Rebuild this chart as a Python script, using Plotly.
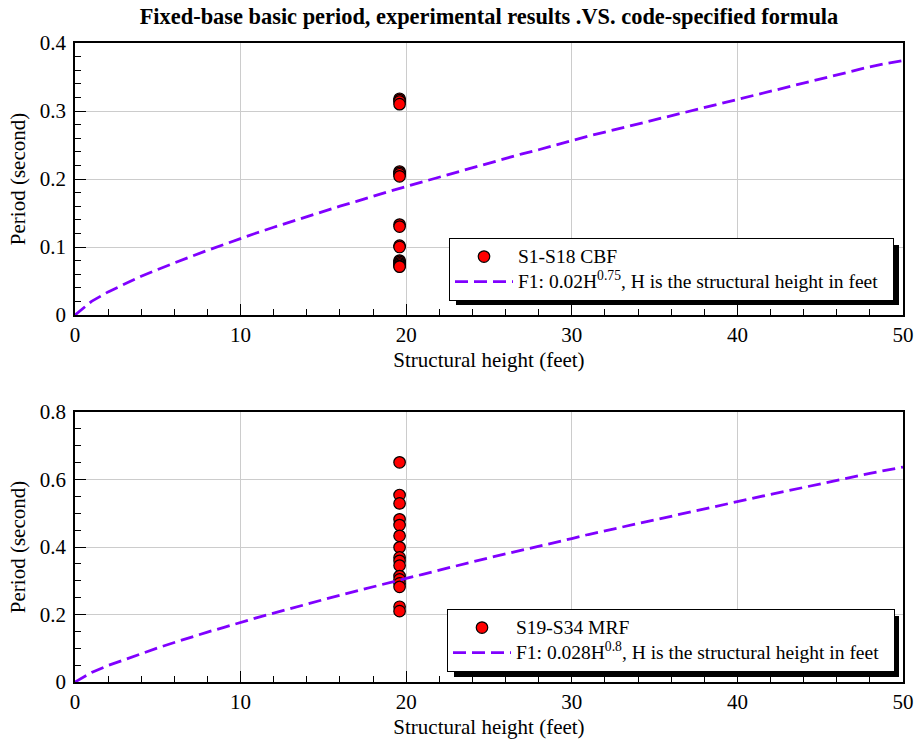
import plotly.graph_objects as go
from plotly.subplots import make_subplots

# ---- data ----
height_ft = list(range(0, 51))
f1_cbf = [0.000, 0.020, 0.034, 0.046, 0.057, 0.067, 0.077, 0.086, 0.095, 0.104,
          0.112, 0.121, 0.129, 0.137, 0.145, 0.152, 0.160, 0.167, 0.175, 0.182,
          0.189, 0.196, 0.203, 0.210, 0.217, 0.224, 0.230, 0.237, 0.243, 0.250,
          0.256, 0.263, 0.269, 0.275, 0.282, 0.288, 0.294, 0.300, 0.306, 0.312,
          0.318, 0.324, 0.330, 0.336, 0.342, 0.347, 0.353, 0.359, 0.365, 0.370,
          0.374]
f1_mrf = [0.000, 0.028, 0.049, 0.067, 0.085, 0.101, 0.117, 0.133, 0.148, 0.162,
          0.177, 0.191, 0.204, 0.218, 0.231, 0.244, 0.257, 0.270, 0.283, 0.295,
          0.307, 0.319, 0.332, 0.344, 0.356, 0.368, 0.379, 0.391, 0.402, 0.414,
          0.425, 0.437, 0.448, 0.459, 0.470, 0.481, 0.492, 0.503, 0.513, 0.524,
          0.535, 0.545, 0.556, 0.566, 0.577, 0.587, 0.598, 0.608, 0.618, 0.628,
          0.637]

cbf_height = [19.6] * 18
cbf_period = [0.318, 0.316, 0.314, 0.310, 0.211, 0.209, 0.207, 0.204, 0.133,
              0.130, 0.102, 0.100, 0.080, 0.078, 0.076, 0.074, 0.072, 0.071]
mrf_height = [19.6] * 16
mrf_period = [0.651, 0.554, 0.529, 0.482, 0.465, 0.433, 0.399, 0.369, 0.359,
              0.345, 0.314, 0.304, 0.292, 0.282, 0.223, 0.210]

x_ticks = [0, 10, 20, 30, 40, 50]
y_ticks_top = [0, 0.1, 0.2, 0.3, 0.4]
y_ticks_bot = [0, 0.2, 0.4, 0.6, 0.8]

title_text = "<b>Fixed-base basic period, experimental results .VS. code-specified formula</b>"
x_title = "Structural height (feet)"
y_title = "Period (second)"
name_cbf = "S1-S18 CBF"
name_mrf = "S19-S34 MRF"
name_f_cbf = "F1: 0.02H<sup>0.75</sup>, H is the structural height in feet"
name_f_mrf = "F1: 0.028H<sup>0.8</sup>, H is the structural height in feet"

# ---- style ----
FONT = "Liberation Serif, Times New Roman, serif"
PURPLE = "#8000ff"
W, H = 917, 741
ML, MR, MT, MB = 75, 14, 43, 59
PW, PH = W - ML - MR, H - MT - MB

def px_x(p):
    return (p - ML) / PW

def px_y(p):
    return (H - MB - p) / PH

def big(s, pad=0):
    return '<span style="font-size:19.5px">' + s + "&nbsp;" * pad + "</span>"

fig = make_subplots(rows=2, cols=1, vertical_spacing=0.0)

marker_style = dict(size=11.5, color="#ff0000", line=dict(color="black", width=1.2))
line_style = dict(color=PURPLE, width=2.8, dash="13px,6px")

fig.add_trace(go.Scatter(x=cbf_height, y=cbf_period, mode="markers", name=big(name_cbf),
                         marker=marker_style, legend="legend"), row=1, col=1)
fig.add_trace(go.Scatter(x=height_ft, y=f1_cbf, mode="lines", name=big(name_f_cbf, 2),
                         line=line_style, legend="legend"), row=1, col=1)
fig.add_trace(go.Scatter(x=mrf_height, y=mrf_period, mode="markers", name=big(name_mrf),
                         marker=marker_style, legend="legend2"), row=2, col=1)
fig.add_trace(go.Scatter(x=height_ft, y=f1_mrf, mode="lines", name=big(name_f_mrf, 2),
                         line=line_style, legend="legend2"), row=2, col=1)

axis_common = dict(
    showline=True, linecolor="black", linewidth=1.5, mirror=True,
    ticks="inside", ticklen=11, tickwidth=1.2, tickcolor="black",
    showgrid=True, gridcolor="#cccccc", gridwidth=1,
    zeroline=False, automargin=False,
    tickfont=dict(family=FONT, size=21, color="black"),
)

fig.update_xaxes(**axis_common, range=[0, 50], tickvals=x_ticks,
                 minor=dict(ticks="inside", ticklen=6, dtick=2, tickcolor="black", showgrid=False),
                 title=dict(text=x_title, font=dict(family=FONT, size=21, color="black"), standoff=6))
fig.update_yaxes(**axis_common, ticklabelstandoff=3,
                 title=dict(text=y_title, font=dict(family=FONT, size=21, color="black"), standoff=8))
fig.update_yaxes(range=[0, 0.4], tickvals=y_ticks_top, ticktext=["0", "0.1", "0.2", "0.3", "0.4"],
                 minor=dict(ticks="inside", ticklen=6, dtick=0.02, tickcolor="black", showgrid=False),
                 row=1, col=1)
fig.update_yaxes(range=[0, 0.8], tickvals=y_ticks_bot, ticktext=["0", "0.2", "0.4", "0.6", "0.8"],
                 minor=dict(ticks="inside", ticklen=6, dtick=0.05, tickcolor="black", showgrid=False),
                 row=2, col=1)

fig.update_layout(
    yaxis=dict(domain=[px_y(315), 1.0]),
    yaxis2=dict(domain=[0.0, px_y(412)]),
)

leg_common = dict(
    bgcolor="white", bordercolor="black", borderwidth=1,
    font=dict(family=FONT, size=17, color="black"),
    xanchor="left", yanchor="top", itemwidth=58,
    tracegroupgap=0,
)

fig.update_layout(
    width=W, height=H,
    margin=dict(l=ML, r=MR, t=MT, b=MB),
    paper_bgcolor="white", plot_bgcolor="white",
    showlegend=True,
    title=dict(text=title_text, x=0.5, xref="paper", xanchor="center", y=1 - 16 / H, yanchor="middle",
               font=dict(family=FONT, size=22.4, color="black")),
    legend=dict(x=px_x(449), y=px_y(238), **leg_common),
    legend2=dict(x=px_x(447), y=px_y(609), **leg_common),
)

# legend drop shadows
shadows = [(449, 238, 892, 298), (447, 609, 892, 670)]
for (x0, y0, x1, y1) in shadows:
    fig.add_shape(type="rect", xref="paper", yref="paper",
                  x0=px_x(x0 + 7), x1=px_x(x1 + 7), y0=px_y(y1 + 7), y1=px_y(y0 + 7),
                  fillcolor="black", line=dict(width=0), layer="above")

fig.write_html("out.html", config={"displayModeBar": False},
               post_script="document.body.style.margin='0';document.body.style.overflow='hidden';")
